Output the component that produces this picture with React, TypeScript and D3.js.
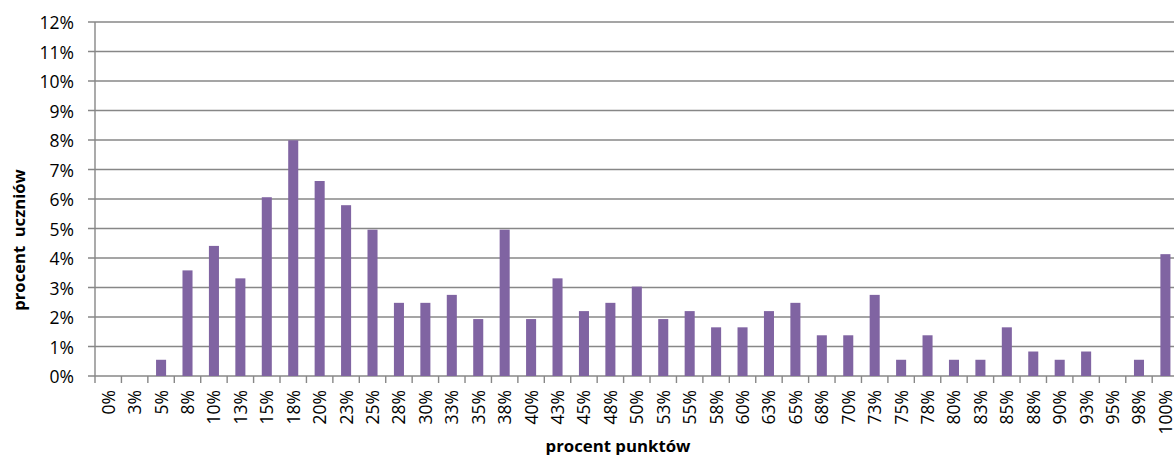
import React from "react";
import * as d3 from "d3";

const categories: string[] = [
  "0%", "3%", "5%", "8%", "10%", "13%", "15%", "18%", "20%", "23%", "25%",
  "28%", "30%", "33%", "35%", "38%", "40%", "43%", "45%", "48%", "50%",
  "53%", "55%", "58%", "60%", "63%", "65%", "68%", "70%", "73%", "75%",
  "78%", "80%", "83%", "85%", "88%", "90%", "93%", "95%", "98%", "100%",
];

const values: number[] = [
  0, 0, 0.55, 3.58, 4.41, 3.31, 6.06, 7.99, 6.61, 5.79, 4.96,
  2.48, 2.48, 2.75, 1.93, 4.96, 1.93, 3.31, 2.2, 2.48, 3.03,
  1.93, 2.2, 1.65, 1.65, 2.2, 2.48, 1.38, 1.38, 2.75, 0.55,
  1.38, 0.55, 0.55, 1.65, 0.83, 0.55, 0.83, 0, 0.55, 4.13,
];

const yTicks: number[] = [0, 1, 2, 3, 4, 5, 6, 7, 8, 9, 10, 11, 12];

const xTitle = "procent punktów";
const yTitle = "procent  uczniów";

const W = 1174;
const H = 455;
const left = 95;
const top = 22;
const bottom = 376;
const right = 95 + 41 * 26.43;

const FONT = "'Open Sans', 'Noto Sans', sans-serif";
const GRID = "#878787";
const BAR = "#8064A2";

export default function App() {
  const x = d3.scaleBand<string>().domain(categories).range([left, right]).padding(0);
  const y = d3.scaleLinear().domain([0, 12]).range([bottom, top]);
  const barW = x.bandwidth() * 0.38;
  const boundaries = d3.range(categories.length + 1).map((i) => left + i * x.step());

  return (
    <svg width={W} height={H} style={{ position: "absolute", left: 0, top: 0, background: "#fff" }}>
      {yTicks.map((t) => (
        <g key={"g" + t}>
          <line x1={left - 7} x2={right} y1={y(t)} y2={y(t)} stroke={GRID} strokeWidth={1.4} />
          <text
            x={74}
            y={y(t)}
            textAnchor="end"
            dominantBaseline="central"
            fontFamily={FONT}
            fontSize={17.5}
            fill="#000"
          >
            {t + "%"}
          </text>
        </g>
      ))}
      <line x1={left} x2={left} y1={top} y2={bottom} stroke={GRID} strokeWidth={1.4} />
      {boundaries.map((b, i) => (
        <line key={"t" + i} x1={b} x2={b} y1={bottom} y2={bottom + 7} stroke={GRID} strokeWidth={1.4} />
      ))}
      {categories.map((c, i) => {
        const cx = (x(c) as number) + x.bandwidth() / 2;
        return (
          <g key={c}>
            {values[i] > 0 && (
              <rect
                x={cx - barW / 2}
                y={y(values[i])}
                width={barW}
                height={bottom - y(values[i])}
                fill={BAR}
              />
            )}
            <text
              transform={`translate(${cx - 0.5},390) rotate(-90)`}
              textAnchor="end"
              dominantBaseline="central"
              fontFamily={FONT}
              fontSize={17.5}
              fill="#000"
            >
              {c}
            </text>
          </g>
        );
      })}
      <text
        x={618}
        y={445}
        textAnchor="middle"
        dominantBaseline="central"
        fontFamily={FONT}
        fontSize={16.8}
        fontWeight="bold"
        fill="#000"
      >
        {xTitle}
      </text>
      <text
        transform={`translate(18,240) rotate(-90)`}
        textAnchor="middle"
        dominantBaseline="central"
        fontFamily={FONT}
        fontSize={16.6}
        fontWeight="bold"
        fill="#000"
        style={{ whiteSpace: "pre" }}
      >
        {yTitle}
      </text>
    </svg>
  );
}
